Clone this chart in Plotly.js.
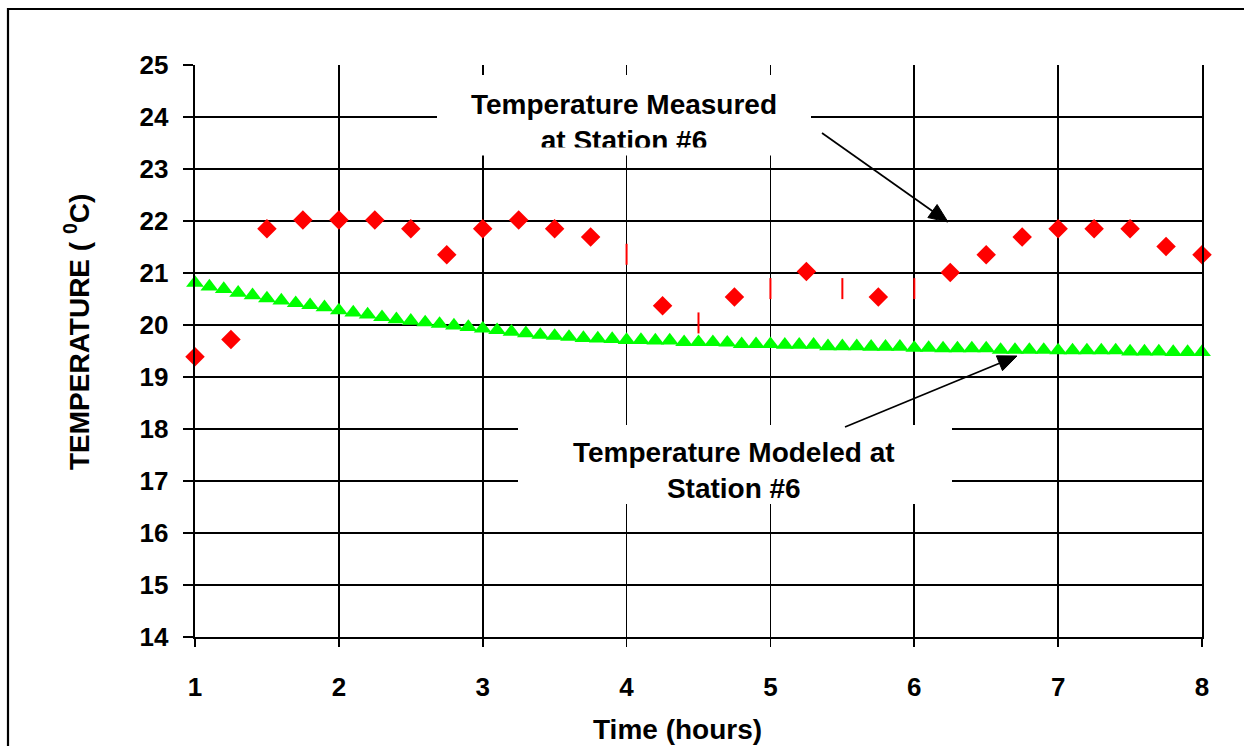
<!DOCTYPE html>
<html>
<head>
<meta charset="utf-8">
<script src="https://cdn.plot.ly/plotly-3.0.1.min.js"></script>
<style>
  html, body { margin: 0; padding: 0; background: #fff; }
  #chart { width: 1244px; height: 746px; }
</style>
</head>
<body>
<div id="chart"></div>
<script>
// ---- Data ----
const measuredTime = [1.0, 1.25, 1.5, 1.75, 2.0, 2.25, 2.5, 2.75, 3.0, 3.25, 3.5, 3.75,
                      4.0, 4.25, 4.5, 4.75, 5.0, 5.25, 5.5, 5.75, 6.0, 6.25, 6.5, 6.75,
                      7.0, 7.25, 7.5, 7.75, 8.0];
const measuredTemp = [19.39, 19.72, 21.85, 22.02, 22.02, 22.02, 21.85, 21.35, 21.85, 22.02, 21.85, 21.69,
                      21.36, 20.37, 20.04, 20.54, 20.70, 21.03, 20.70, 20.54, 20.70, 21.01, 21.35, 21.69,
                      21.85, 21.85, 21.85, 21.51, 21.35];
// measured points that the reference shows as thin vertical ticks instead of diamonds
const tickOnlyTimes = [4.0, 4.5, 5.0, 5.5, 6.0];

const modeledTime = [1.0, 1.1, 1.2, 1.3, 1.4, 1.5, 1.6, 1.7, 1.8, 1.9,
                     2.0, 2.1, 2.2, 2.3, 2.4, 2.5, 2.6, 2.7, 2.8, 2.9,
                     3.0, 3.1, 3.2, 3.3, 3.4, 3.5, 3.6, 3.7, 3.8, 3.9,
                     4.0, 4.1, 4.2, 4.3, 4.4, 4.5, 4.6, 4.7, 4.8, 4.9,
                     5.0, 5.1, 5.2, 5.3, 5.4, 5.5, 5.6, 5.7, 5.8, 5.9,
                     6.0, 6.1, 6.2, 6.3, 6.4, 6.5, 6.6, 6.7, 6.8, 6.9,
                     7.0, 7.1, 7.2, 7.3, 7.4, 7.5, 7.6, 7.7, 7.8, 7.9, 8.0];
const modeledTemp = [20.81, 20.74, 20.69, 20.62, 20.57, 20.51, 20.47, 20.42, 20.38, 20.34,
                     20.28, 20.24, 20.20, 20.15, 20.11, 20.08, 20.05, 20.02, 19.99, 19.96,
                     19.93, 19.90, 19.87, 19.84, 19.81, 19.79, 19.77, 19.75, 19.74, 19.73,
                     19.71, 19.71, 19.70, 19.70, 19.67, 19.67, 19.67, 19.66, 19.63, 19.63,
                     19.63, 19.62, 19.62, 19.62, 19.59, 19.59, 19.59, 19.58, 19.58, 19.58,
                     19.56, 19.56, 19.55, 19.55, 19.55, 19.55, 19.52, 19.52, 19.52, 19.52,
                     19.51, 19.51, 19.51, 19.51, 19.51, 19.49, 19.49, 19.49, 19.48, 19.48, 19.48];

const xTickVals = [1, 2, 3, 4, 5, 6, 7, 8];
const yTickVals = [14, 15, 16, 17, 18, 19, 20, 21, 22, 23, 24, 25];

const xTitle = 'Time (hours)';
const yTitle = 'TEMPERATURE ( <sup>0</sup>C)';
const measuredLabel = 'Temperature Measured<br>at Station #6';
const modeledLabel = 'Temperature Modeled at<br>Station #6';

// ---- Layout helpers (pixel -> paper) ----
const W = 1244, H = 746;
const M = { l: 195, r: 42, t: 65, b: 109 };
const PW = W - M.l - M.r, PH = H - M.t - M.b;
const px = v => (v - M.l) / PW;
const py = v => (H - M.b - v) / PH;

const FONT = 'Liberation Sans, Arial, Helvetica, sans-serif';
const txt = (size) => ({ family: FONT, size: size, color: '#000', weight: 'bold' });

// arrow (line + filled head) as shapes, from pixel tail (sx,sy) to pixel tip (tx,ty)
function arrowShapes(sx, sy, tx, ty) {
  const dx = tx - sx, dy = ty - sy, len = Math.hypot(dx, dy);
  const ux = dx / len, uy = dy / len, nx = -uy, ny = ux;
  const L = 19, w = 8;
  const bx = tx - L * ux, by = ty - L * uy;
  const p = (x, y) => px(x) + ',' + py(y);
  return [
    { type: 'line', xref: 'paper', yref: 'paper', x0: px(sx), y0: py(sy), x1: px(bx + 2 * ux), y1: py(by + 2 * uy),
      line: { color: '#000', width: 1.7 }, layer: 'above' },
    { type: 'path', xref: 'paper', yref: 'paper',
      path: 'M' + p(tx, ty) + 'L' + p(bx + w * nx, by + w * ny) + 'L' + p(bx - w * nx, by - w * ny) + 'Z',
      line: { color: '#000', width: 1 }, fillcolor: '#000', layer: 'above' }
  ];
}

const isTick = measuredTime.map(t => tickOnlyTimes.includes(t));

const traces = [
  {
    type: 'scatter', mode: 'markers', name: 'Modeled',
    x: modeledTime, y: modeledTemp, cliponaxis: false,
    marker: { symbol: 'triangle-up', size: 15.5, color: '#00ff00', line: { width: 0 } }
  },
  {
    type: 'scatter', mode: 'markers', name: 'Measured',
    x: measuredTime, y: measuredTemp, cliponaxis: false,
    marker: {
      symbol: isTick.map(b => b ? 'line-ns-open' : 'diamond'),
      size: 15,
      color: '#ff0000',
      line: { color: '#ff0000', width: isTick.map(b => b ? 2 : 0) }
    }
  }
];

const layout = {
  width: W, height: H,
  margin: M,
  paper_bgcolor: '#fff', plot_bgcolor: '#fff',
  showlegend: false, hovermode: false,
  xaxis: {
    range: [1, 8], tickvals: xTickVals, ticktext: xTickVals.map(String),
    showgrid: true, gridcolor: '#000', gridwidth: 1.6,
    showline: true, linecolor: '#000', linewidth: 2.4,
    ticks: 'outside', ticklen: 8, tickwidth: 1.6, tickcolor: '#000',
    ticklabelstandoff: 17,
    tickfont: txt(26), zeroline: false, fixedrange: true
  },
  yaxis: {
    range: [14, 25], tickvals: yTickVals, ticktext: yTickVals.map(String),
    showgrid: true, gridcolor: '#000', gridwidth: 1.6,
    showline: true, linecolor: '#000', linewidth: 2.4, mirror: true,
    ticks: 'outside', ticklen: 10, tickwidth: 1.6, tickcolor: '#000',
    ticklabelstandoff: 9,
    tickfont: txt(26), zeroline: false, fixedrange: true
  },
  shapes: [
    // outer frame (only left & top edges fall inside the picture)
    { type: 'rect', xref: 'paper', yref: 'paper', x0: px(8), x1: px(1260), y0: py(770), y1: py(9),
      line: { color: '#000', width: 2.2 }, fillcolor: 'rgba(0,0,0,0)', layer: 'above' },
    // white label boxes
    { type: 'rect', xref: 'paper', yref: 'paper', x0: px(437), x1: px(811), y0: py(155), y1: py(75),
      line: { width: 0 }, fillcolor: '#fff', layer: 'above' },
    { type: 'rect', xref: 'paper', yref: 'paper', x0: px(518), x1: px(952), y0: py(504), y1: py(425),
      line: { width: 0 }, fillcolor: '#fff', layer: 'above' }
  ].concat(arrowShapes(822, 133, 948, 222), arrowShapes(845, 427, 1017, 356)),
  annotations: [
    { xref: 'paper', yref: 'paper', x: px(624), y: py(122), xanchor: 'center', yanchor: 'middle',
      text: measuredLabel, showarrow: false, font: txt(28), align: 'center' },
    // white strip that trims the bottom of the label (as in the reference)
    { xref: 'paper', yref: 'paper', x: px(624), y: py(151.5), xanchor: 'center', yanchor: 'middle',
      text: ' ', showarrow: false, bgcolor: '#fff', width: 374, height: 7, borderpad: 0,
      font: { size: 4 } },
    { xref: 'paper', yref: 'paper', x: px(734), y: py(470), xanchor: 'center', yanchor: 'middle',
      text: modeledLabel, showarrow: false, font: txt(28), align: 'center' },
    // axis titles
    { xref: 'paper', yref: 'paper', x: px(677), y: py(729), xanchor: 'center', yanchor: 'middle',
      text: xTitle, showarrow: false, font: txt(28) },
    { xref: 'paper', yref: 'paper', x: px(77), y: py(332), xanchor: 'center', yanchor: 'middle',
      text: yTitle, showarrow: false, font: txt(28), textangle: -90 }
  ]
};

Plotly.newPlot('chart', traces, layout, { staticPlot: true, displayModeBar: false });
</script>
</body>
</html>
